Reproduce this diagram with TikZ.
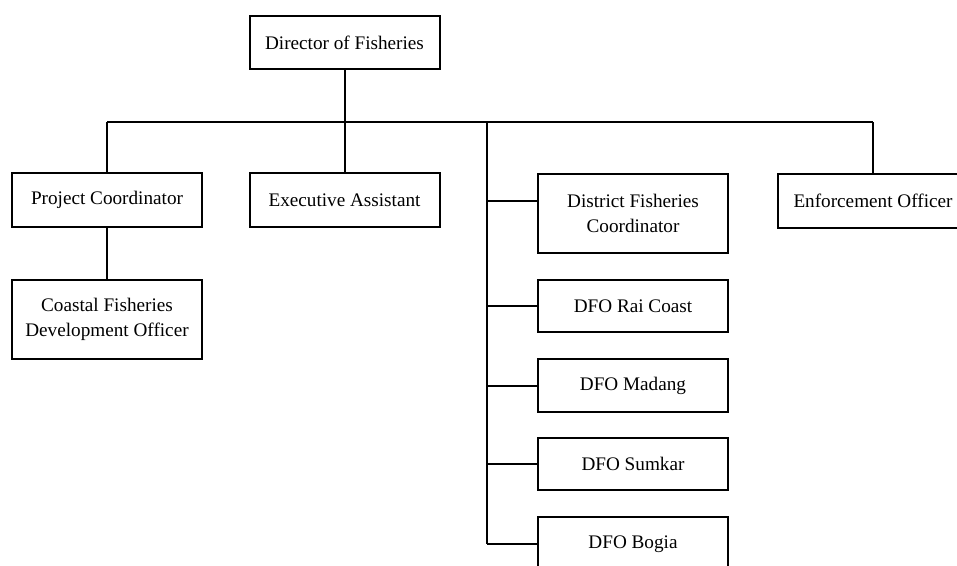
\documentclass[tikz,border=0pt]{standalone}
\usepackage{fontspec}
\setmainfont{Liberation Serif}
\begin{document}
\begin{tikzpicture}[x=1pt,y=-1pt,
  box/.style={draw,line width=2pt,rectangle,inner sep=0pt,minimum width=190pt,minimum height=#1,align=center,font=\fontsize{19.2}{25}\selectfont},
  box/.default=53pt,
  conn/.style={line width=2pt}]
\useasboundingbox (0,0) rectangle (957,565);
\clip (0,0) rectangle (957,565);
\node[box] (dir) at (344.5,42.5) {Director of Fisheries};
\node[box=54pt] (pc) at (107,200) {Project Coordinator};
\node[box=79pt] (cfdo) at (107,319.5) {Coastal Fisheries\\Development Officer};
\node[box=54pt] (ea) at (344.5,200) {Executive Assistant};
\node[box=54pt] (eo) at (873,200.5) {Enforcement Officer};
\node[box=79pt] (dfc) at (633,213.5) {District Fisheries\\Coordinator};
\node[box=52pt] (rai) at (633,306) {DFO Rai Coast};
\node[box=53pt] (mad) at (633,385.5) {DFO Madang};
\node[box=52pt] (sum) at (633,464) {DFO Sumkar};
\node[box=54pt] (bog) at (633,544) {DFO Bogia};
\coordinate (busL) at (107,122);
\coordinate (busR) at (873,122);
\coordinate (mtop) at (487,122);
\coordinate (mbot) at (487,544);
\coordinate (dfcj) at (487,201);
\draw[conn] (busL) -- (busR);
\draw[conn] (dir.south) -- (dir.south |- busL);
\draw[conn] (busL) -- (pc.north);
\draw[conn] (ea.north |- busL) -- (ea.north);
\draw[conn] (busR) -- (eo.north);
\draw[conn] (pc.south) -- (cfdo.north);
\draw[conn] (mtop) -- (mbot);
\draw[conn] (dfcj) -- (dfcj -| dfc.west);
\draw[conn] (mtop |- rai.west) -- (rai.west);
\draw[conn] (mtop |- mad.west) -- (mad.west);
\draw[conn] (mtop |- sum.west) -- (sum.west);
\draw[conn] (mbot) -- (bog.west);
\end{tikzpicture}
\end{document}
